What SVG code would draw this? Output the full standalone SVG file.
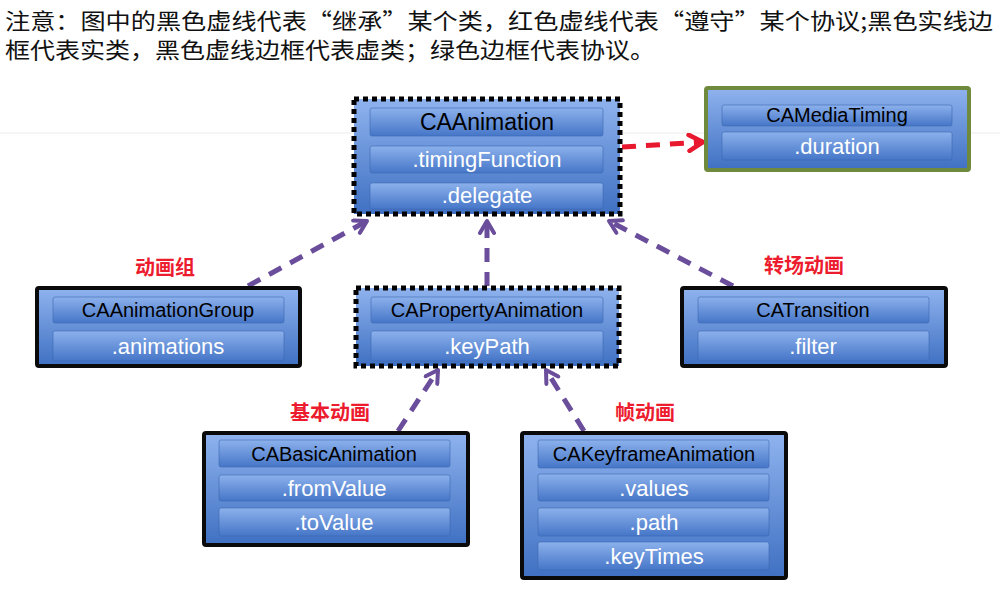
<svg xmlns="http://www.w3.org/2000/svg" width="1000" height="606" viewBox="0 0 1000 606">
<defs>
<linearGradient id="gBox" x1="0" y1="0" x2="0" y2="1">
<stop offset="0" stop-color="#8fb3ee"/>
<stop offset="1" stop-color="#3f70c2"/>
</linearGradient>
<linearGradient id="gBar" x1="0" y1="0" x2="0" y2="1">
<stop offset="0" stop-color="#8cb1ec"/>
<stop offset="1" stop-color="#4676c8"/>
</linearGradient>
<marker id="arrP" viewBox="0 0 18 18" refX="15" refY="9" markerWidth="18" markerHeight="18" markerUnits="userSpaceOnUse" orient="auto">
<path d="M3,2 L15,9 L3,16" fill="none" stroke="#6a4d9b" stroke-width="4" stroke-linecap="round" stroke-linejoin="round"/>
</marker>
<marker id="arrR" viewBox="0 0 20 20" refX="17" refY="10" markerWidth="20" markerHeight="20" markerUnits="userSpaceOnUse" orient="auto">
<path d="M3,2 L17,10 L3,18" fill="none" stroke="#e8182e" stroke-width="4.5" stroke-linecap="round" stroke-linejoin="round"/>
</marker>
</defs>
<style>
.note{font-family:"Noto Sans CJK SC","Liberation Sans",sans-serif;font-size:22px;fill:#111}
.box{fill:url(#gBox)}
.solid{stroke:#0a0a0a;stroke-width:4}
.dotted{stroke:#000;stroke-width:5;stroke-dasharray:5 4}
.proto{stroke:#6f8a3c;stroke-width:4}
.bar{fill:url(#gBar);stroke:#3c68b0;stroke-width:1;stroke-opacity:0.6}
.t{font-family:"Liberation Sans",Arial,sans-serif;text-anchor:middle}
.name{fill:#000;font-size:20px}
.big{fill:#000;font-size:23px}
.prop{fill:#fff;font-size:22px}
.lbl{font-family:"Noto Sans CJK SC",sans-serif;font-size:20px;font-weight:bold;fill:#ec1c2e;text-anchor:middle;stroke:#fff;stroke-width:4;paint-order:stroke;stroke-linejoin:round}
.inh{fill:none;stroke:#6a4d9b;stroke-width:5;stroke-dasharray:14 10;marker-end:url(#arrP)}
.conf{fill:none;stroke:#e8182e;stroke-width:5;stroke-dasharray:14 10;marker-end:url(#arrR)}
</style>
<rect width="1000" height="606" fill="#fff"/>
<line x1="0" y1="133" x2="1000" y2="133" stroke="#ececec" stroke-width="1"/>
<text class="note" x="5" y="29" textLength="988" lengthAdjust="spacingAndGlyphs">注意：图中的黑色虚线代表“继承”某个类，红色虚线代表“遵守”某个协议;黑色实线边</text>
<text class="note" x="5" y="58" textLength="650" lengthAdjust="spacingAndGlyphs">框代表实类，黑色虚线边框代表虚类；绿色边框代表协议。</text>

<g id="connectors">
<path class="inh" d="M248,286 L367,221"/>
<path class="inh" d="M487,286 L487,221"/>
<path class="inh" d="M733,286 L609,221"/>
<path class="inh" d="M398,431 L438,370"/>
<path class="inh" d="M584,431 L546,370"/>
<path class="conf" d="M622,147 L703,142"/>
</g>

<g id="CAAnimation">
<rect class="box dotted" x="354" y="99" width="266" height="115"/>
<rect class="bar" x="370" y="108" width="233" height="28" rx="2"/>
<rect class="bar" x="370" y="146" width="233" height="27" rx="2"/>
<rect class="bar" x="370" y="183" width="233" height="26" rx="2"/>
<text class="t big" x="487" y="130">CAAnimation</text>
<text class="t prop" x="487" y="167">.timingFunction</text>
<text class="t prop" x="487" y="203">.delegate</text>
</g>

<g id="CAMediaTiming">
<rect class="box proto" x="706" y="88" width="263" height="82" rx="2"/>
<rect class="bar" x="722" y="105" width="230" height="21" rx="2"/>
<rect class="bar" x="722" y="132" width="230" height="28" rx="2"/>
<text class="t name" x="837" y="122">CAMediaTiming</text>
<text class="t prop" x="837" y="154">.duration</text>
</g>

<g id="CAAnimationGroup">
<text class="lbl" x="165" y="275">动画组</text>
<rect class="box solid" x="37" y="288" width="263" height="78" rx="2"/>
<rect class="bar" x="53" y="297" width="231" height="26" rx="2"/>
<rect class="bar" x="53" y="331" width="231" height="30" rx="2"/>
<text class="t name" x="168" y="317">CAAnimationGroup</text>
<text class="t prop" x="168" y="354">.animations</text>
</g>

<g id="CAPropertyAnimation">
<rect class="box dotted" x="356" y="288" width="263" height="78"/>
<rect class="bar" x="371" y="297" width="232" height="26" rx="2"/>
<rect class="bar" x="371" y="331" width="232" height="30" rx="2"/>
<text class="t name" x="487" y="317">CAPropertyAnimation</text>
<text class="t prop" x="487" y="354">.keyPath</text>
</g>

<g id="CATransition">
<text class="lbl" x="804" y="273">转场动画</text>
<rect class="box solid" x="682" y="288" width="264" height="78" rx="2"/>
<rect class="bar" x="698" y="297" width="231" height="26" rx="2"/>
<rect class="bar" x="698" y="331" width="231" height="30" rx="2"/>
<text class="t name" x="813" y="317">CATransition</text>
<text class="t prop" x="813" y="354">.filter</text>
</g>

<g id="CABasicAnimation">
<text class="lbl" x="330" y="420">基本动画</text>
<rect class="box solid" x="204" y="433" width="264" height="112" rx="2"/>
<rect class="bar" x="219" y="440" width="231" height="27" rx="2"/>
<rect class="bar" x="219" y="475" width="231" height="26" rx="2"/>
<rect class="bar" x="219" y="508" width="231" height="28" rx="2"/>
<text class="t name" x="334" y="461">CABasicAnimation</text>
<text class="t prop" x="334" y="496">.fromValue</text>
<text class="t prop" x="334" y="530">.toValue</text>
</g>

<g id="CAKeyframeAnimation">
<text class="lbl" x="645" y="420">帧动画</text>
<rect class="box solid" x="522" y="433" width="264" height="145" rx="2"/>
<rect class="bar" x="538" y="440" width="231" height="28" rx="2"/>
<rect class="bar" x="538" y="474" width="231" height="27" rx="2"/>
<rect class="bar" x="538" y="508" width="231" height="28" rx="2"/>
<rect class="bar" x="538" y="542" width="231" height="28" rx="2"/>
<text class="t name" x="654" y="461">CAKeyframeAnimation</text>
<text class="t prop" x="654" y="496">.values</text>
<text class="t prop" x="654" y="530">.path</text>
<text class="t prop" x="654" y="564">.keyTimes</text>
</g>
</svg>
